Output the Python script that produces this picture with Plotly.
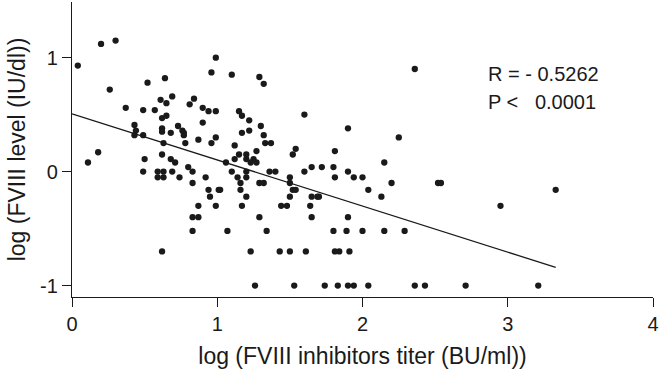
import plotly.graph_objects as go

# log inhibitor titer (x) and log FVIII level (y)
x_vals = [
    0.04, 0.20, 0.30, 0.26, 0.52, 0.64, 0.96, 0.99, 1.10, 1.29, 1.32, 2.36,
    0.37, 0.49, 0.57, 0.61, 0.65, 0.69, 0.81, 0.84, 0.90, 0.94, 0.99, 0.62,
    0.65, 1.15, 1.17, 1.22, 1.60, 0.90, 0.43, 0.44, 0.43, 0.49, 0.62, 0.62,
    0.68, 0.73, 0.76, 0.77, 0.77, 0.78, 0.87, 0.96, 0.99, 0.63, 0.18, 0.11,
    0.62, 0.50, 0.68, 0.71, 0.80, 0.83, 0.49, 0.59, 0.63, 0.59, 0.63, 0.69,
    0.74, 0.83, 0.92, 0.94, 1.01, 0.95, 0.87, 0.99, 1.30, 1.22, 1.17, 1.32,
    1.33, 1.37, 1.90, 1.12, 1.54, 1.52, 1.81, 1.15, 1.12, 1.20, 1.20, 1.25,
    1.23, 1.27, 1.27, 1.06, 1.10, 1.20, 1.36, 1.40, 1.60, 1.65, 1.72, 1.80,
    1.90, 1.81, 1.94, 1.14, 1.20, 1.16, 1.29, 1.32, 1.50, 1.50, 1.52, 1.54,
    1.16, 1.02, 1.20, 1.50, 1.65, 1.69, 1.70, 1.17, 1.44, 1.48, 1.64, 2.25,
    2.15, 2.00, 2.04, 2.20, 2.52, 2.54, 2.13, 3.33, 2.95, 0.83, 0.87, 0.83,
    0.62, 1.29, 1.65, 1.90, 1.07, 1.34, 1.80, 1.89, 2.00, 2.15, 2.29, 1.23,
    1.43, 1.50, 1.61, 1.81, 1.84, 1.91,
    1.26, 1.53, 1.74, 1.83, 1.90, 1.94, 2.04, 2.36, 2.43, 2.71, 3.21,
]
y_vals = [
    0.93, 1.12, 1.15, 0.72, 0.78, 0.82, 0.87, 1.00, 0.85, 0.83, 0.77, 0.90,
    0.56, 0.54, 0.54, 0.63, 0.60, 0.66, 0.59, 0.64, 0.56, 0.53, 0.53, 0.47,
    0.49, 0.53, 0.49, 0.45, 0.50, 0.43, 0.41, 0.36, 0.32, 0.32, 0.38, 0.35,
    0.34, 0.40, 0.36, 0.34, 0.32, 0.25, 0.28, 0.25, 0.30, 0.25, 0.17, 0.08,
    0.15, 0.11, 0.11, 0.08, 0.04, 0.00, 0.00, 0.00, 0.00, -0.05, -0.05, 0.00,
    -0.05, -0.10, -0.05, -0.16, -0.16, -0.22, -0.30, -0.30, 0.40, 0.36, 0.34, 0.32,
    0.25, 0.25, 0.38, 0.23, 0.20, 0.15, 0.18, 0.15, 0.11, 0.15, 0.11, 0.11,
    0.08, 0.08, 0.18, 0.08, 0.00, 0.00, 0.00, 0.00, 0.00, 0.04, 0.04, 0.04,
    0.00, -0.05, -0.05, -0.05, -0.05, -0.10, -0.10, -0.10, -0.05, -0.10, -0.16, -0.16,
    -0.16, -0.16, -0.22, -0.22, -0.22, -0.22, -0.22, -0.30, -0.30, -0.30, -0.30, 0.30,
    0.08, -0.05, -0.16, -0.10, -0.10, -0.10, -0.22, -0.16, -0.30, -0.40, -0.40, -0.52,
    -0.70, -0.40, -0.40, -0.40, -0.52, -0.52, -0.52, -0.52, -0.52, -0.52, -0.52, -0.70,
    -0.70, -0.70, -0.70, -0.70, -0.70, -0.70,
    -1.00, -1.00, -1.00, -1.00, -1.00, -1.00, -1.00, -1.00, -1.00, -1.00, -1.00,
]

# regression line as drawn in the figure
fit_x = [0.0, 3.33]
fit_y = [0.506, -0.84]

x_ticks = [0, 1, 2, 3, 4]
y_ticks = [-1, 0, 1]
y_tick_labels = ["-1", "0", "1"]

stats_lines = ["R = - 0.5262", "P <\u00a0\u00a0 0.0001"]
stats_y = [0.86, 0.61]

FONT = "Liberation Sans, Arial, sans-serif"
INK = "#1a1a1a"

fig = go.Figure()
fig.add_trace(go.Scatter(
    x=x_vals, y=y_vals, mode="markers",
    marker=dict(size=6.3, color=INK),
    showlegend=False, hoverinfo="skip",
))
fig.add_trace(go.Scatter(
    x=fit_x, y=fit_y, mode="lines",
    line=dict(color=INK, width=1.3),
    showlegend=False, hoverinfo="skip",
))

for txt, yy in zip(stats_lines, stats_y):
    fig.add_annotation(
        x=0.712, xref="paper", y=yy, yref="y", text=txt,
        showarrow=False, xanchor="left", yanchor="middle",
        font=dict(family=FONT, size=20, color=INK),
    )

fig.update_layout(
    width=661, height=376,
    margin=dict(l=72, r=6, t=2, b=79),
    paper_bgcolor="white", plot_bgcolor="white",
    font=dict(family=FONT, size=20, color=INK),
)
fig.update_xaxes(
    range=[0, 4], tickvals=x_ticks, showgrid=False, zeroline=False,
    showline=True, linecolor=INK, linewidth=1.3,
    ticks="outside", ticklen=9, tickwidth=1.3, tickcolor=INK,
    tickfont=dict(size=20),
    title=dict(text="log (FVIII inhibitors titer (BU/ml))", font=dict(size=23), standoff=13),
)
fig.update_yaxes(
    range=[-1.10, 1.488], tickvals=y_ticks, ticktext=y_tick_labels,
    showgrid=False, zeroline=False,
    showline=True, linecolor=INK, linewidth=1.3,
    ticks="outside", ticklen=9, tickwidth=1.3, tickcolor=INK,
    tickfont=dict(size=20),
    title=dict(text="log (FVIII level (IU/dl))", font=dict(size=23), standoff=8),
)

fig.write_html("out.html")
